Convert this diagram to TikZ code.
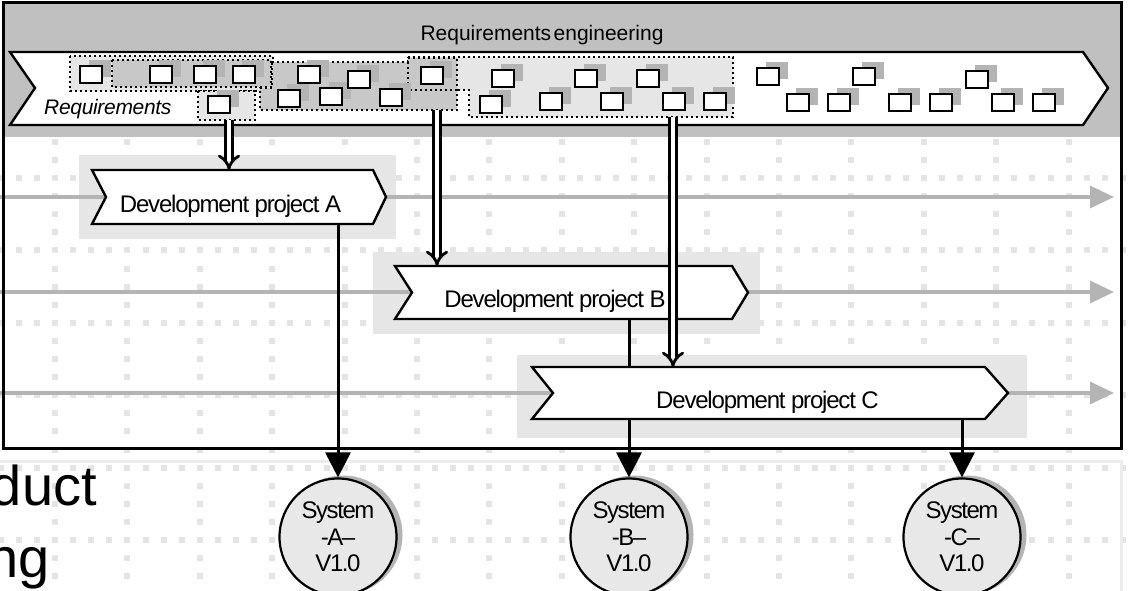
\documentclass[tikz,border=0pt]{standalone}
\usepackage{fontspec}
\setmainfont{Liberation Sans}
\usetikzlibrary{arrows.meta,calc}
\definecolor{hdr}{HTML}{C0C0C0}
\definecolor{shadec}{HTML}{E6E6E6}
\definecolor{grp}{HTML}{C8C8C8}
\definecolor{shadowc}{HTML}{B4B4B4}
\definecolor{gridc}{HTML}{E4E4E4}
\definecolor{tline}{HTML}{B4B4B4}
\definecolor{sysfill}{HTML}{E8E8E8}
\definecolor{faint}{HTML}{ECECEC}
\begin{document}
\begin{tikzpicture}[x=1pt,y=-1pt,
  reqbox/.style={draw=black, line width=1.9pt, fill=white},
  grpl/.style={draw=black, line width=1.8pt, dash pattern=on 1.8pt off 3.2pt},
  chev/.style={draw=black, line width=2.4pt, fill=white, line join=miter},
  chevbox/.style={inner sep=0pt, outer sep=0pt, draw=none},
  ptext/.style={font=\fontsize{24}{28}\selectfont\addfontfeature{LetterSpace=-5}},
  tl/.style={draw=tline, line width=3.5pt, -{Triangle[length=24pt,width=22pt]}},
  dbl/.style={draw=black, double=white, double distance=4.5pt, line width=2.8pt, -{Implies[length=14pt,width=26pt]}},
  sysarrow/.style={draw=black, line width=3pt, -{Triangle[length=25pt,width=25pt]}},
  sys/.style={circle, draw=black, line width=2.2pt, fill=sysfill, minimum size=117pt, inner sep=0pt, align=center,
    font=\fontsize{24}{26.5}\selectfont\addfontfeature{LetterSpace=-6}},
]
\useasboundingbox (0,0) rectangle (1128,591);

% background grid of light dots
\foreach \j in {0,...,5} {
  \foreach \i in {-3,...,59} {
    \fill[gridc] ({55+18.1*\i-3},{178+72.4*\j-3}) rectangle ++(6,6);
  }
}
\foreach \i in {0,...,14} {
  \foreach \k in {-2,...,23} {
    \fill[gridc] ({55+72.4*\i-3},{178+18.1*\k-3}) rectangle ++(6,6);
  }
}

% faint frame of the slide underneath
\draw[faint, line width=3pt] (0,461) -- (1121,461) -- (1121,595);

% cut-off slide text
\node[anchor=base east, inner sep=0pt, font=\fontsize{56}{60}\selectfont] (slide1) at (97,505) {duct};
\node[anchor=base east, inner sep=0pt, font=\fontsize{56}{60}\selectfont] (slide2) at (50,577) {ng};

% header band
\fill[hdr] (3,3) rectangle (1121,137);
\node[anchor=base, inner sep=0pt, font=\fontsize{21}{24}\selectfont] (hdrtext) at (542,41) {Requirements\hspace{0.12em}engineering};

% requirements ribbon
\path[draw=black, line width=2.4pt, fill=white, line join=miter]
  (10,52) -- (1083,52) -- (1108,88) -- (1083,125) -- (10,125) -- (35,88) -- cycle;
\node[anchor=base west, inner sep=0pt, font=\fontsize{21}{24}\selectfont\itshape\addfontfeature{LetterSpace=-1.5}] (reqlabel) at (44,115) {Requirements};

% requirement groups
\path[grpl, fill=shadec] (70,56) rectangle (273,91);
\path[grpl, fill=grp] (112,60) rectangle (271,87);
\path[grpl, fill=shadec] (198,91) rectangle (255,120);
\path[grpl, fill=shadec] (408,57) -- (733,57) -- (733,117) -- (469,117) -- (469,90) -- (408,90) -- cycle;
\path[grpl, fill=grp] (272,62) -- (408,62) -- (408,58) -- (457,58) -- (457,110) -- (260,110) -- (260,88) -- (272,88) -- cycle;
\draw[grpl] (408,62) -- (408,90) -- (457,90);

% requirement boxes with shadows
\def\reqlist{80/66,150/66,194/66,233/66,298/66,348/71,421/67,492/70,575/70,637/70,757/68,853/68,966/71,
  208/96,278/90,320/88,380/89,480/96,540/93,601/93,663/93,704/93,787/94,828/94,889/94,930/94,992/94,1033/94}
\foreach \x/\y in \reqlist { \fill[shadowc] (\x+9,\y-6) rectangle ++(22,17); }
\foreach \x/\y in \reqlist { \path[reqbox] (\x,\y) rectangle ++(22,17); }

% anchor coordinates under the groups
\coordinate (g2s) at (229,120);
\coordinate (g3s) at (437,110);
\coordinate (g5s) at (673,117);

% project bounding nodes
\node[chevbox, minimum width=294pt, minimum height=54pt] (pA) at (239,197) {};
\node[chevbox, minimum width=353pt, minimum height=53pt] (pB) at (571.5,292.5) {};
\node[chevbox, minimum width=476pt, minimum height=52pt] (pC) at (770,393) {};

% shading behind projects
\fill[shadec] (79,155) rectangle (396,239);
\fill[shadec] (373,252) rectangle (760,334);
\fill[shadec] (517,355) rectangle (1027,438);

% timelines
\coordinate (tA0) at (0,197);   \coordinate (tA1) at (1114,197);
\coordinate (tB0) at (0,292);   \coordinate (tB1) at (1114,292);
\coordinate (tC0) at (0,393);   \coordinate (tC1) at (1114,393);
\draw[tl] (tA0) -- (tA1);
\draw[tl] (tB0) -- (tB1);
\draw[tl] (tC0) -- (tC1);

% outer frame
\draw[line width=3pt] (3,3) rectangle (1121,448);

% chevrons A and B
\path[chev] (pA.north west) -- ($(pA.north east)+(-13,0)$) -- (pA.east) -- ($(pA.south east)+(-13,0)$)
  -- (pA.south west) -- ($(pA.west)+(14,0)$) -- cycle;
\node[ptext, anchor=base, inner sep=0pt] (pAt) at (230.5,212) {Development project A};
\path[chev] (pB.north west) -- ($(pB.north east)+(-16,0)$) -- (pB.east) -- ($(pB.south east)+(-16,0)$)
  -- (pB.south west) -- ($(pB.west)+(17,0)$) -- cycle;
\node[ptext, anchor=base, inner sep=0pt] (pBt) at (555,307) {Development project B};

% resulting systems
\fill[shadowc] (343,535) circle (59.5);
\fill[shadowc] (634,535) circle (59.5);
\fill[shadowc] (967,535) circle (59.5);
\node[sys] (sysA) at (338,537) {System\\-A–\\V1.0};
\node[sys] (sysB) at (629,537) {System\\-B–\\V1.0};
\node[sys] (sysC) at (962,537) {System\\-C–\\V1.0};

\draw[sysarrow] (pA.south -| sysA) -- (sysA.north);
\draw[sysarrow] (pB.south -| sysB) -- (sysB.north);

% chevron C (over the line from B)
\path[chev] (pC.north west) -- ($(pC.north east)+(-23,0)$) -- (pC.east) -- ($(pC.south east)+(-23,0)$)
  -- (pC.south west) -- ($(pC.west)+(21,0)$) -- cycle;
\node[ptext, anchor=base, inner sep=0pt] (pCt) at (767.5,408) {Development project C};
\draw[sysarrow] (pC.south -| sysC) -- (sysC.north);

% requirements flowing into projects
\draw[dbl] (g2s) -- (g2s |- pA.north);
\draw[dbl] (g3s) -- (g3s |- pB.north);
\draw[dbl] (g5s) -- (g5s |- pC.north);
\end{tikzpicture}
\end{document}
